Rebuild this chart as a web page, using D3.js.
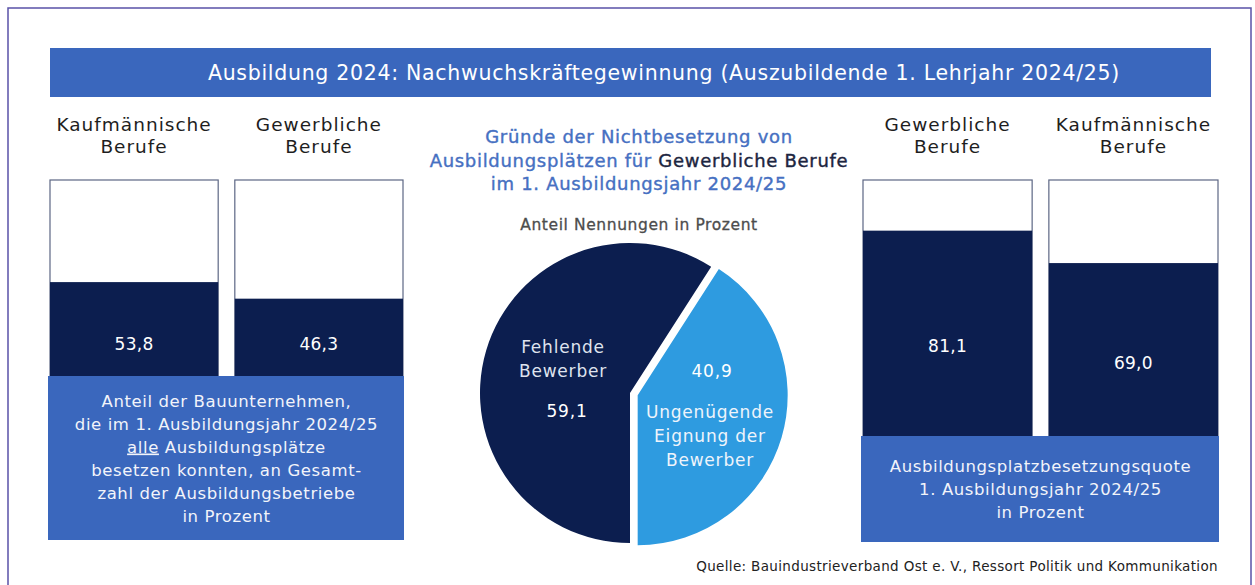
<!DOCTYPE html>
<html>
<head>
<meta charset="utf-8">
<script src="https://cdn.jsdelivr.net/npm/d3@7"></script>
<style>
  body { margin: 0; background: #fff; }
  text { font-family: "DejaVu Sans", "Noto Sans", sans-serif; }
</style>
</head>
<body>
<div id="chart"></div>
<script>
// Daten
const leftCategories = ['Kaufmännische Berufe', 'Gewerbliche Berufe'];
const leftValues = [53.8, 46.3];
const rightCategories = ['Gewerbliche Berufe', 'Kaufmännische Berufe'];
const rightValues = [81.1, 69.0];
const pieCategories = ['Fehlende Bewerber', 'Ungenügende Eignung der Bewerber'];
const pieValues = [59.1, 40.9];

const titleText = 'Ausbildung 2024: Nachwuchskräftegewinnung (Auszubildende 1. Lehrjahr 2024/25)';
const leftNote = ['Anteil der Bauunternehmen,', 'die im 1. Ausbildungsjahr 2024/25', '§alle§ Ausbildungsplätze', 'besetzen konnten, an Gesamt-', 'zahl der Ausbildungsbetriebe', 'in Prozent'];
const rightNote = ['Ausbildungsplatzbesetzungsquote', '1. Ausbildungsjahr 2024/25', 'in Prozent'];
const sourceText = 'Quelle: Bauindustrieverband Ost e. V., Ressort Politik und Kommunikation';

const navy = '#0c1e4f';
const midBlue = '#3a67bd';
const lightBlue = '#2e9be0';

const de = d3.formatLocale({ decimal: ',', thousands: '.', grouping: [3], currency: ['', ' €'] });
const fmt = de.format('.1f');

const W = 1255, H = 585;
const svg = d3.select('#chart').append('svg').attr('width', W).attr('height', H);

// Rahmen
svg.append('path')
  .attr('d', `M8,${H} V8 H1251 V${H}`)
  .attr('fill', 'none').attr('stroke', '#5a52a8').attr('stroke-width', 1.5);

// Titelbalken
svg.append('rect').attr('x', 50).attr('y', 48).attr('width', 1161).attr('height', 49).attr('fill', midBlue);
svg.append('text').attr('x', 664).attr('y', 80).attr('text-anchor', 'middle')
  .attr('fill', '#fff').attr('font-size', 20.5).attr('letter-spacing', 0.7).text(titleText);

// Säulen-Gruppe
function barGroup(cats, values, x0, x1, yTop, yBottom, boxTop, boxBottom, note, labelY) {
  const x = d3.scaleBand().domain(cats).range([x0, x1]).paddingInner(0.09);
  const y = d3.scaleLinear().domain([0, 100]).range([yBottom, yTop]);
  const g = svg.append('g');

  // Kopfzeilen
  cats.forEach((c) => {
    const parts = c.split(' ');
    const t = g.append('text').attr('text-anchor', 'middle').attr('fill', '#1e1e1e')
      .attr('font-size', 18.5).attr('letter-spacing', 1);
    parts.forEach((p, i) => {
      t.append('tspan').attr('x', x(c) + x.bandwidth() / 2).attr('y', 131 + i * 22).text(p);
    });
  });

  // Rahmen 100 %
  g.selectAll('rect.frame').data(cats).enter().append('rect')
    .attr('class', 'frame')
    .attr('x', (d) => x(d)).attr('y', y(100))
    .attr('width', x.bandwidth()).attr('height', y(0) - y(100))
    .attr('fill', '#fff').attr('stroke', '#5c6684').attr('stroke-width', 1.2);

  // Werte
  g.selectAll('rect.val').data(values).enter().append('rect')
    .attr('class', 'val')
    .attr('x', (d, i) => x(cats[i])).attr('y', (d) => y(d))
    .attr('width', x.bandwidth()).attr('height', (d) => y(0) - y(d))
    .attr('fill', navy);

  g.selectAll('text.val').data(values).enter().append('text')
    .attr('class', 'val')
    .attr('x', (d, i) => x(cats[i]) + x.bandwidth() / 2)
    .attr('y', (d) => labelY(y(d), y(0)))
    .attr('text-anchor', 'middle').attr('fill', '#fff').attr('font-size', 17).attr('letter-spacing', 0.3)
    .text((d) => fmt(d));

  // Erläuterungskasten
  g.append('rect').attr('x', x0 - 2).attr('y', boxTop)
    .attr('width', x1 - x0 + 3).attr('height', boxBottom - boxTop).attr('fill', midBlue);
  const cx = (x0 + x1) / 2;
  const lineH = 23;
  const start = (boxTop + boxBottom) / 2 - ((note.length - 1) * lineH) / 2 + 6;
  note.forEach((line, i) => {
    const t = g.append('text').attr('x', cx).attr('y', start + i * lineH)
      .attr('text-anchor', 'middle').attr('fill', '#f2f4fa')
      .attr('font-size', 16.5).attr('letter-spacing', 0.6);
    line.split('§').forEach((part, j) => {
      if (!part) return;
      const ts = t.append('tspan').text(part);
      if (j === 1) ts.attr('text-decoration', 'underline');
    });
  });
}

barGroup(leftCategories, leftValues, 50, 403, 180, 401, 376, 540, leftNote, () => 350);
barGroup(rightCategories, rightValues, 863, 1218, 180, 448, 436, 542, rightNote, (top, bottom) => (top + bottom) / 2 + 13);

// Mitte: Titel
const mid = 639;
const mt = svg.append('g').attr('font-size', 18).attr('letter-spacing', 0.7)
  .attr('text-anchor', 'middle').attr('stroke-width', 0.4);
mt.append('text').attr('x', mid).attr('y', 143).attr('fill', '#4670c2').attr('stroke', '#4670c2')
  .text('Gründe der Nichtbesetzung von');
const l2 = mt.append('text').attr('x', mid).attr('y', 167).attr('fill', '#4670c2').attr('stroke', '#4670c2');
l2.append('tspan').text('Ausbildungsplätzen für ');
l2.append('tspan').attr('fill', '#1c2540').attr('stroke', '#1c2540').text('Gewerbliche Berufe');
mt.append('text').attr('x', mid).attr('y', 190).attr('fill', '#4670c2').attr('stroke', '#4670c2')
  .text('im 1. Ausbildungsjahr 2024/25');

svg.append('text').attr('x', mid).attr('y', 230).attr('text-anchor', 'middle')
  .attr('fill', '#4d4d4d').attr('stroke', '#4d4d4d').attr('stroke-width', 0.3)
  .attr('font-size', 15.5).attr('letter-spacing', 0.6).text('Anteil Nennungen in Prozent');

// Kreisdiagramm
const pcx = 630, pcy = 393, r = 150, explode = 8;
const pie = d3.pie().sort(null).startAngle(Math.PI).endAngle(3 * Math.PI);
const arcs = pie(pieValues);
const arc = d3.arc().innerRadius(0).outerRadius(r);
const pieColors = [navy, lightBlue];
const pg = svg.append('g').attr('transform', `translate(${pcx},${pcy})`);

pg.selectAll('path').data(arcs).enter().append('path')
  .attr('d', arc)
  .attr('fill', (d, i) => pieColors[i])
  .attr('transform', (d, i) => {
    if (i === 0) return null;
    const a = (d.startAngle + d.endAngle) / 2;
    return `translate(${Math.sin(a) * explode},${-Math.cos(a) * explode})`;
  });

// Beschriftung Kreis
const pieFont = (sel) => sel.attr('text-anchor', 'middle').attr('font-size', 17).attr('letter-spacing', 0.8);
const fl = pg.append('text').call(pieFont).attr('fill', '#dfe3ee');
fl.append('tspan').attr('x', -67).attr('y', -40).text(pieCategories[0].split(' ')[0]);
fl.append('tspan').attr('x', -67).attr('y', -16).text(pieCategories[0].split(' ')[1]);
pg.append('text').call(pieFont).attr('x', -63).attr('y', 24).attr('fill', '#fff').text(fmt(pieValues[0]));

pg.append('text').call(pieFont).attr('x', 82).attr('y', -16).attr('fill', '#fff').text(fmt(pieValues[1]));
const ul = pg.append('text').call(pieFont).attr('fill', '#eef4fb');
['Ungenügende', 'Eignung der', 'Bewerber'].forEach((w, i) => {
  ul.append('tspan').attr('x', 80).attr('y', 25 + i * 24).text(w);
});

// Quelle
svg.append('text').attr('x', 1218).attr('y', 571).attr('text-anchor', 'end')
  .attr('fill', '#222').attr('font-size', 13.5).attr('letter-spacing', 0.35).text(sourceText);
</script>
</body>
</html>
